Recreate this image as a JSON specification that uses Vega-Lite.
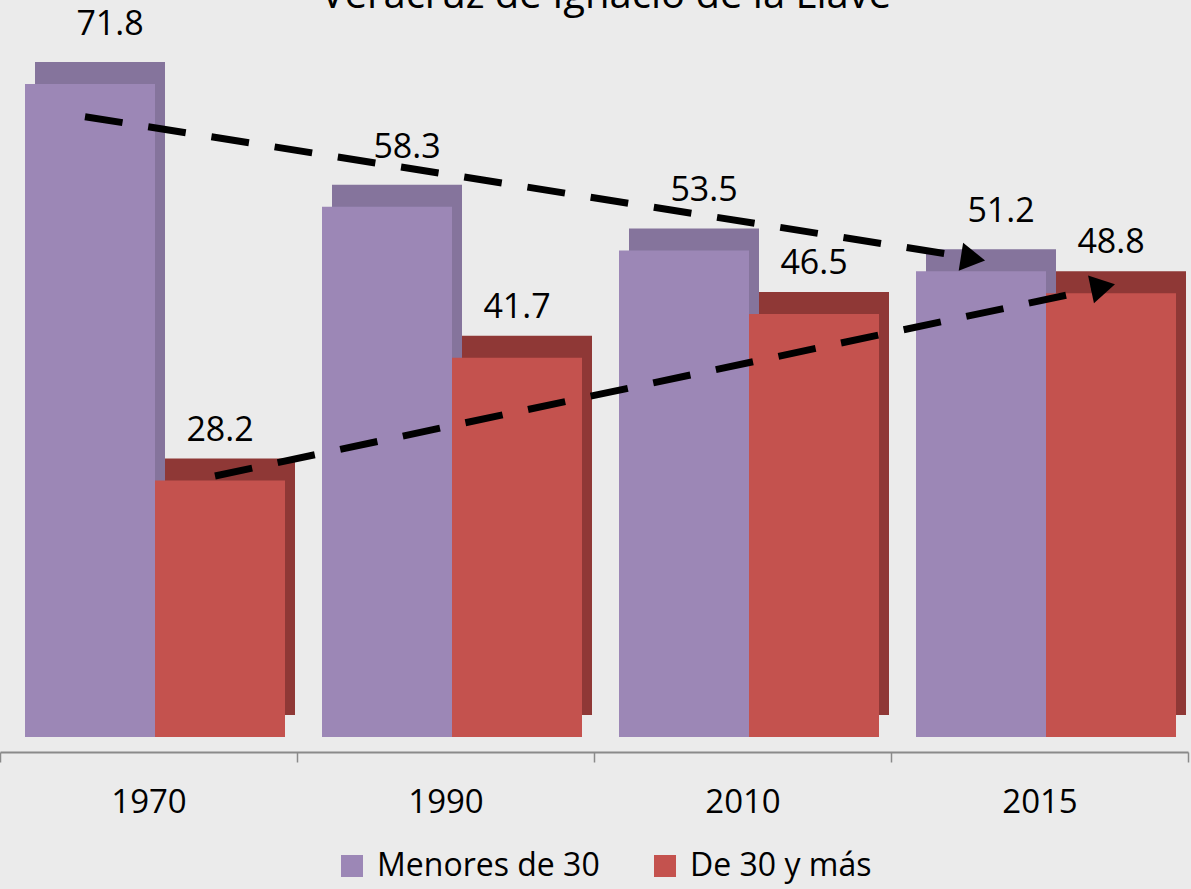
{
  "$schema": "https://vega.github.io/schema/vega-lite/v6.json",
  "width": 1188,
  "height": 732,
  "autosize": "none",
  "padding": {"left": 0, "top": 20, "right": 3, "bottom": 137},
  "background": "#ebebeb",
  "title": {"text": "Veracruz de Ignacio de la Llave", "fontSize": 40, "font": "Open Sans", "fontWeight": "normal", "color": "#000000", "anchor": "middle", "baseline": "alphabetic", "offset": -40, "frame": "group", "dx": 12},
  "config": {"view": {"stroke": null}, "font": "Open Sans"},
  "resolve": {"scale": {"xOffset": "independent"}},
  "datasets": {
    "bars": [
      {"year": "1970", "series": "Menores de 30", "value": 71.8},
      {"year": "1970", "series": "De 30 y más", "value": 28.2},
      {"year": "1990", "series": "Menores de 30", "value": 58.3},
      {"year": "1990", "series": "De 30 y más", "value": 41.7},
      {"year": "2010", "series": "Menores de 30", "value": 53.5},
      {"year": "2010", "series": "De 30 y más", "value": 46.5},
      {"year": "2015", "series": "Menores de 30", "value": 51.2},
      {"year": "2015", "series": "De 30 y más", "value": 48.8}
    ],
    "arrows": [
      {"arrow": "A", "year": "1970", "series": "Menores de 30", "value": 68.2, "end": false},
      {"arrow": "A", "year": "2015", "series": "Menores de 30", "value": 52.6, "end": true},
      {"arrow": "B", "year": "1970", "series": "De 30 y más", "value": 28.7, "end": false},
      {"arrow": "B", "year": "2015", "series": "De 30 y más", "value": 49.5, "end": true}
    ]
  },
  "encoding": {
    "x": {
      "field": "year", "type": "nominal", "title": null,
      "scale": {"paddingInner": 0, "paddingOuter": 0},
      "axis": {"labelAngle": 0, "labelFontSize": 33, "labelFont": "Open Sans", "labelColor": "#000000", "domainColor": "#8a8a8a", "domainWidth": 2, "tickColor": "#8a8a8a", "tickWidth": 1.5, "tickSize": 10, "tickBand": "extent", "labelPadding": 24, "grid": false}
    },
    "y": {"field": "value", "type": "quantitative", "scale": {"domain": [-1.65, 78.83], "nice": false, "zero": false}, "axis": null}
  },
  "layer": [
    {
      "data": {"name": "bars"},
      "transform": [{"filter": "datum.series === 'Menores de 30'"}],
      "mark": {"type": "bar", "color": "#85749c", "yOffset": -22, "y2Offset": -22},
      "encoding": {
        "y2": {"datum": 0},
        "xOffset": {"field": "series", "type": "nominal", "scale": {"domain": ["Menores de 30", "De 30 y más"], "range": [35, 295], "paddingOuter": 0, "paddingInner": 0}}
      }
    },
    {
      "data": {"name": "bars"},
      "transform": [{"filter": "datum.series === 'De 30 y más'"}],
      "mark": {"type": "bar", "color": "#8f3836", "yOffset": -22, "y2Offset": -22},
      "encoding": {
        "y2": {"datum": 0},
        "xOffset": {"field": "series", "type": "nominal", "scale": {"domain": ["Menores de 30", "De 30 y más"], "range": [35, 295], "paddingOuter": 0, "paddingInner": 0}}
      }
    },
    {
      "data": {"name": "bars"},
      "mark": {"type": "bar"},
      "encoding": {
        "y2": {"datum": 0},
        "xOffset": {"field": "series", "type": "nominal", "scale": {"domain": ["Menores de 30", "De 30 y más"], "range": [25, 285], "paddingOuter": 0, "paddingInner": 0}},
        "color": {
          "field": "series", "type": "nominal",
          "scale": {"domain": ["Menores de 30", "De 30 y más"], "range": ["#9c87b6", "#c4524e"]},
          "legend": {"title": null, "orient": "none", "legendX": 336, "legendY": 830, "direction": "horizontal", "symbolType": "square", "symbolSize": 484, "symbolStrokeWidth": 0, "labelFontSize": 32, "labelFont": "Open Sans", "labelColor": "#000000", "labelLimit": 400, "labelOffset": 9, "columnPadding": 49, "padding": 0}
        }
      }
    },
    {
      "data": {"name": "arrows"},
      "mark": {"type": "line", "color": "#000000", "strokeWidth": 7, "strokeDash": [38, 26]},
      "encoding": {
        "detail": {"field": "arrow"},
        "xOffset": {"field": "series", "type": "nominal", "scale": {"domain": ["Menores de 30", "De 30 y más"], "range": [85, 215], "padding": 0}}
      }
    },
    {
      "data": {"name": "arrows"},
      "transform": [{"filter": "datum.end && datum.arrow === 'A'"}],
      "mark": {"type": "point", "shape": "triangle-right", "filled": true, "color": "#000000", "opacity": 1, "size": 800, "angle": 9},
      "encoding": {
        "xOffset": {"field": "series", "type": "nominal", "scale": {"domain": ["Menores de 30", "De 30 y más"], "range": [82, 212], "padding": 0}}
      }
    },
    {
      "data": {"name": "arrows"},
      "transform": [{"filter": "datum.end && datum.arrow === 'B'"}],
      "mark": {"type": "point", "shape": "triangle-right", "filled": true, "color": "#000000", "opacity": 1, "size": 800, "angle": 348},
      "encoding": {
        "xOffset": {"field": "series", "type": "nominal", "scale": {"domain": ["Menores de 30", "De 30 y más"], "range": [82, 212], "padding": 0}}
      }
    },
    {
      "data": {"name": "bars"},
      "transform": [{"filter": "datum.series === 'Menores de 30'"}],
      "mark": {"type": "text", "fontSize": 34, "font": "Open Sans", "color": "#000000", "baseline": "middle", "dx": 20, "dy": -59},
      "encoding": {
        "text": {"field": "value", "type": "quantitative", "format": ".1f"},
        "xOffset": {"field": "series", "type": "nominal", "scale": {"domain": ["Menores de 30", "De 30 y más"], "range": [90, 220], "padding": 0}}
      }
    },
    {
      "data": {"name": "bars"},
      "transform": [{"filter": "datum.series === 'De 30 y más'"}],
      "mark": {"type": "text", "fontSize": 34, "font": "Open Sans", "color": "#000000", "baseline": "middle", "dx": 0, "dy": -50},
      "encoding": {
        "text": {"field": "value", "type": "quantitative", "format": ".1f"},
        "xOffset": {"field": "series", "type": "nominal", "scale": {"domain": ["Menores de 30", "De 30 y más"], "range": [90, 220], "padding": 0}}
      }
    }
  ]
}
